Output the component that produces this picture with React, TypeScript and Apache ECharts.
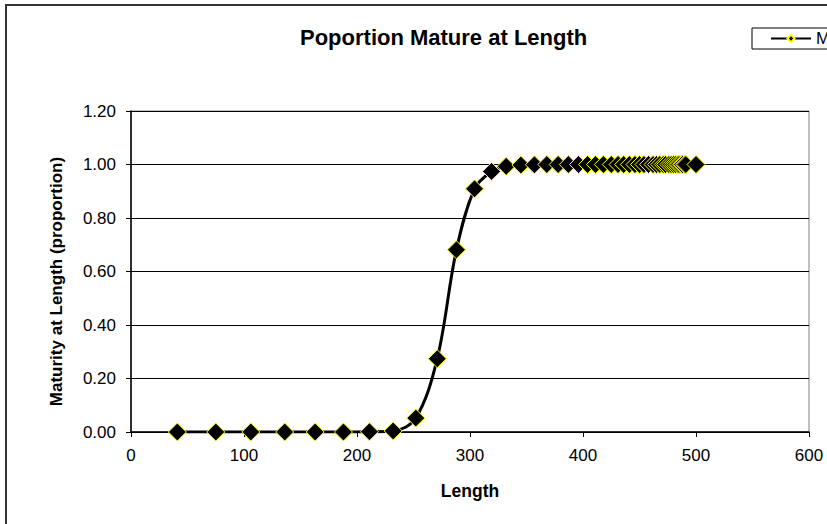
import React, { useEffect, useRef } from "react";
import * as echarts from "echarts";

const lengths = [41, 75, 106, 136, 163, 188, 211, 232, 252, 271, 288, 304, 319, 332, 345, 357, 368, 378, 387, 396, 404, 411, 418, 425, 431, 436, 441, 446, 450, 454, 458, 462, 465, 468, 471, 473, 476, 478, 480, 482, 484, 485, 487, 488, 490, 491, 500];
const maturity = [0, 0, 0, 0, 0, 0, 0.001, 0.004, 0.052, 0.274, 0.681, 0.909, 0.974, 0.993, 0.998, 0.999, 1, 1, 1, 1, 1, 1, 1, 1, 1, 1, 1, 1, 1, 1, 1, 1, 1, 1, 1, 1, 1, 1, 1, 1, 1, 1, 1, 1, 1, 1, 1];
const seriesName = "Maturity";
const titleText = "Poportion Mature at Length";
const xTitle = "Length";
const yTitle = "Maturity at Length (proportion)";

const FONT = "'Liberation Sans', Arial, sans-serif";

export default function App() {
  const ref = useRef<HTMLDivElement>(null);
  useEffect(() => {
    if (!ref.current) return;
    const chart = echarts.init(ref.current, undefined, { renderer: "svg" });
    const data = lengths.map((l, i) => [l, maturity[i]]);
    chart.setOption({
      animation: false,
      backgroundColor: "#fff",
      textStyle: { fontFamily: FONT },
      title: {
        text: titleText,
        left: 300,
        top: 26,
        padding: 0,
        textStyle: { fontSize: 22, fontWeight: "bold", color: "#000", fontFamily: FONT },
      },
      legend: {
        left: 752,
        top: 28,
        padding: [2, 6, 2, 18],
        borderColor: "#000",
        borderWidth: 1,
        itemWidth: 40,
        itemHeight: 9,
        textStyle: { fontSize: 17, color: "#000", fontFamily: FONT },
        data: [seriesName],
      },
      graphic: [
        {
          type: "rect",
          shape: { x: 6, y: 5, width: 1000, height: 1000 },
          style: { fill: "none", stroke: "#333", lineWidth: 2 },
          silent: true,
        },
      ],
      grid: {
        left: 131,
        top: 111,
        width: 678,
        height: 321,
        show: true,
        borderColor: "#808080",
        borderWidth: 1,
        backgroundColor: "#fff",
      },
      xAxis: {
        type: "value",
        min: 0,
        max: 600,
        interval: 100,
        name: xTitle,
        nameLocation: "middle",
        nameGap: 50,
        nameTextStyle: { fontSize: 17.5, fontWeight: "bold", color: "#000", fontFamily: FONT },
        axisLine: { show: true, onZero: false, lineStyle: { color: "#000", width: 1.5 } },
        axisTick: { show: true, length: 5, lineStyle: { color: "#000" } },
        axisLabel: { fontSize: 17, color: "#000", margin: 15, fontFamily: FONT },
        splitLine: { show: false },
      },
      yAxis: {
        type: "value",
        min: 0,
        max: 1.2,
        interval: 0.2,
        name: yTitle,
        nameLocation: "middle",
        nameGap: 66,
        nameTextStyle: {
          fontSize: 17,
          fontWeight: "bold",
          color: "#000",
          fontFamily: FONT,
          padding: [0, 20, 0, 0],
        },
        axisLine: { show: true, lineStyle: { color: "#000", width: 1.5 } },
        axisTick: { show: true, length: 5, lineStyle: { color: "#000" } },
        axisLabel: {
          fontSize: 17,
          color: "#000",
          margin: 15,
          fontFamily: FONT,
          formatter: (v: number) => v.toFixed(2),
        },
        splitLine: { show: true, lineStyle: { color: "#000", width: 1 } },
      },
      series: [
        {
          name: seriesName,
          type: "line",
          data,
          smooth: 0.35,
          symbol: "diamond",
          symbolSize: 18,
          lineStyle: { color: "#000", width: 3 },
          itemStyle: { color: "#000", borderColor: "#ffff00", borderWidth: 1 },
        },
      ],
    });
    return () => chart.dispose();
  }, []);
  return (
    <div
      ref={ref}
      style={{ position: "absolute", left: 0, top: 0, width: 827, height: 524 }}
    />
  );
}
